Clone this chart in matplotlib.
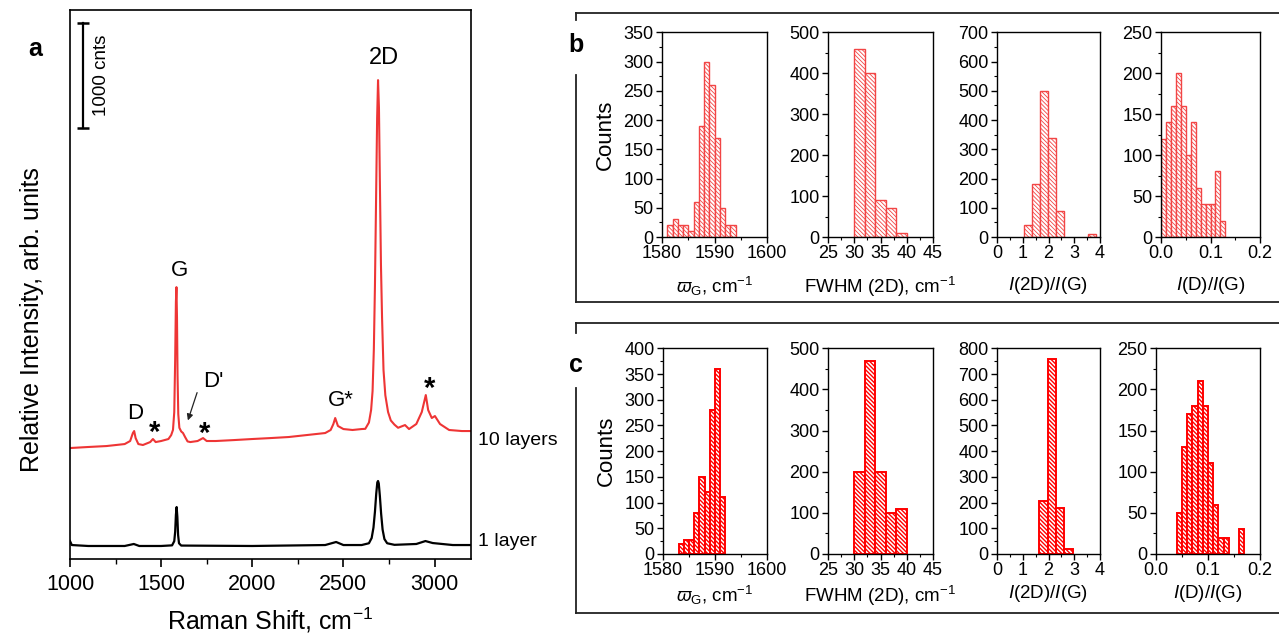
import numpy as np
import matplotlib
matplotlib.use('Agg')
import matplotlib.pyplot as plt
from matplotlib.lines import Line2D
from matplotlib.ticker import MultipleLocator

plt.rcParams['font.family'] = ['Liberation Sans', 'DejaVu Sans']
plt.rcParams['mathtext.fontset'] = 'custom'
plt.rcParams['mathtext.rm'] = 'Liberation Sans'
plt.rcParams['mathtext.it'] = 'Liberation Sans:italic'
plt.rcParams['mathtext.bf'] = 'Liberation Sans:bold'
plt.rcParams['hatch.linewidth'] = 0.8

# ---- panel a: Raman spectra (cm-1, counts)
shift_10 = [1000, 1100, 1200, 1300, 1330, 1345, 1352, 1360, 1375, 1400, 1440, 1455, 1470,
            1500, 1540, 1555, 1565, 1572, 1577, 1581, 1584, 1587, 1590, 1594, 1600, 1610,
            1620, 1632, 1645, 1660, 1700, 1730, 1750, 1800, 1900, 2000, 2100, 2200, 2300,
            2400, 2430, 2445, 2455, 2470, 2500, 2550, 2600, 2620, 2640, 2652, 2660, 2667,
            2673, 2679, 2685, 2690, 2695, 2700, 2706, 2712, 2720, 2730, 2745, 2760, 2780,
            2800, 2838, 2860, 2900, 2930, 2952, 2965, 2985, 3002, 3030, 3080, 3150, 3200]
cnts_10 = [1057, 1067, 1076, 1095, 1124, 1200, 1219, 1152, 1095, 1086, 1114, 1143, 1114,
           1124, 1143, 1180, 1230, 1400, 1900, 2450, 2590, 2300, 1750, 1380, 1250, 1215,
           1200, 1160, 1120, 1114, 1124, 1152, 1124, 1124, 1133, 1143, 1152, 1162, 1181,
           1200, 1229, 1286, 1343, 1267, 1238, 1229, 1238, 1240, 1300, 1420, 1600, 2000,
           2600, 3400, 4200, 4562, 4300, 3600, 2800, 2300, 1800, 1560, 1400, 1320, 1280,
           1250, 1276, 1238, 1286, 1400, 1562, 1419, 1343, 1362, 1286, 1229, 1219, 1219]

shift_1 = [1000, 1010, 1100, 1300, 1350, 1380, 1500, 1560, 1572, 1577, 1581, 1585, 1589,
           1593, 1598, 1610, 2000, 2400, 2460, 2500, 2600, 2640, 2655, 2665, 2673, 2680,
           2686, 2690, 2694, 2700, 2707, 2715, 2725, 2740, 2780, 2900, 2950, 2990, 3100, 3200]
cnts_1 = [171, 133, 124, 124, 143, 124, 124, 130, 170, 260, 420, 495, 400,
          230, 150, 128, 124, 133, 162, 133, 133, 150, 200, 300, 450, 620,
          730, 743, 720, 600, 430, 280, 190, 150, 135, 143, 171, 152, 133, 133]

# ---- panel b histograms (10 layers)
b_wg_left = [1581, 1582, 1583, 1584, 1585, 1586, 1587, 1588, 1589, 1590, 1591, 1592, 1593]
b_wg_cnt = [20, 30, 20, 20, 10, 60, 190, 300, 260, 170, 50, 20, 20]
b_fw_left = [30, 32, 34, 36, 38]
b_fw_cnt = [460, 400, 90, 70, 10]
b_r2d_left = [1.06, 1.37, 1.68, 1.99, 2.30, 3.54]
b_r2d_cnt = [40, 180, 500, 340, 90, 10]
b_rd_left = [0.00, 0.01, 0.02, 0.03, 0.04, 0.05, 0.06, 0.07, 0.08, 0.09, 0.10, 0.11, 0.12]
b_rd_cnt = [120, 140, 160, 200, 160, 100, 140, 60, 40, 40, 40, 80, 20]

# ---- panel c histograms (1 layer)
c_wg_left = [1583, 1584, 1585, 1586, 1587, 1588, 1589, 1590, 1591]
c_wg_cnt = [20, 28, 28, 80, 150, 120, 280, 360, 110]
c_fw_left = [30, 32, 34, 36, 38]
c_fw_cnt = [200, 470, 200, 100, 110]
c_r2d_left = [1.65, 1.97, 2.30, 2.62]
c_r2d_cnt = [205, 760, 180, 20]
c_rd_left = [0.04, 0.05, 0.06, 0.07, 0.08, 0.09, 0.10, 0.11, 0.12, 0.13, 0.16]
c_rd_cnt = [50, 130, 170, 180, 210, 180, 110, 60, 20, 20, 30]

W, H = 1279, 639
fig = plt.figure(figsize=(W / 100, H / 100), dpi=100)


def px_axes(l, t, r, b):
    return fig.add_axes([l / W, 1 - b / H, (r - l) / W, (b - t) / H])


def fig_line(xs, ys):
    fig.add_artist(Line2D([x / W for x in xs], [1 - y / H for y in ys],
                          transform=fig.transFigure, color='#222222', lw=1.3))


# ---- panel a
ax = px_axes(70, 10, 471, 559)
ax.plot(shift_10, cnts_10, color='#ee3535', lw=1.5)
ax.plot(shift_1, cnts_1, color='black', lw=1.6)
ax.set_xlim(1000, 3200)
ax.set_ylim(0, 5230)
ax.set_yticks([])
ax.set_xticks([1000, 1500, 2000, 2500, 3000])
ax.xaxis.set_minor_locator(MultipleLocator(250))
ax.tick_params(axis='x', which='major', direction='out', length=6, width=1.2,
               labelsize=15.5, pad=5)
ax.tick_params(axis='x', which='minor', direction='out', length=3.5, width=1.0)
for s in ax.spines.values():
    s.set_linewidth(1.2)

# scale bar
ax.plot([1071, 1071], [4108, 5108], color='black', lw=1.6)
ax.plot([1071, 1071], [4108, 5108], ls='none', marker='_', ms=8, mew=1.8, color='black')
ax.text(1174, 4610, '1000 cnts', rotation=90, ha='center', va='center', fontsize=13.5)

lab = dict(ha='center', va='center', fontsize=16)
ax.text(1600, 2752, 'G', **lab)
ax.text(2725, 4772, '2D', fontsize=17, ha='center', va='center')
ax.text(1357, 1390, 'D', **lab)
ax.text(1784, 1695, "D'", **lab)
ax.text(2487, 1514, 'G*', **lab)
star = dict(ha='center', va='center', fontsize=21, fontweight='bold')
ax.text(1466, 1200, '*', **star)
ax.text(1740, 1188, '*', **star)
ax.text(2975, 1620, '*', **star)
ax.annotate('', xy=(1642, 1295), xytext=(1702, 1610),
            arrowprops=dict(arrowstyle='-|>', color='#222222', lw=0.9,
                            mutation_scale=9))
ax.text(3238, 1133, '10 layers', ha='left', va='center', fontsize=14, clip_on=False)
ax.text(3238, 171, '1 layer', ha='left', va='center', fontsize=14, clip_on=False)

fig.text(32 / W, 1 - 320 / H, 'Relative Intensity, arb. units', rotation=90,
         ha='center', va='center', fontsize=18)
fig.text(270 / W, 1 - 620 / H, 'Raman Shift, cm$^{-1}$', ha='center', va='center',
         fontsize=18)
fig.text(35 / W, 1 - 49 / H, 'a', ha='center', va='center', fontsize=18,
         fontweight='bold')

# ---- panels b and c
lbl_wg = r'$\varpi_{\mathrm{G}}$, cm$^{-1}$'
lbl_fw = 'FWHM (2D), cm$^{-1}$'
lbl_r2d = '$I$(2D)/$I$(G)'
lbl_rd = '$I$(D)/$I$(G)'


def hist(rect, lefts, counts, width, xlim, xticks, xticklabels, xminor, ymax, ystep,
         xlabel, color, elw, hlw, labelpad):
    a = px_axes(*rect)
    bars = a.bar(lefts, counts, width=width, align='edge', facecolor='white',
                 edgecolor=color, linewidth=elw, hatch='\\' * 8)
    for p in bars:
        if hasattr(p, 'set_hatch_linewidth'):
            p.set_hatch_linewidth(hlw)
    a.set_xlim(*xlim)
    a.set_ylim(0, ymax)
    a.set_xticks(xticks, xticklabels)
    a.xaxis.set_minor_locator(MultipleLocator(xminor))
    a.set_yticks(np.arange(0, ymax + 1, ystep))
    a.yaxis.set_minor_locator(MultipleLocator(ystep / 2))
    a.tick_params(which='major', direction='out', length=4, width=1.0, labelsize=13,
                  pad=2)
    a.tick_params(which='minor', direction='out', length=2.5, width=0.8)
    a.set_xlabel(xlabel, fontsize=13.5, labelpad=labelpad)
    for s in a.spines.values():
        s.set_linewidth(1.0)
    return a


cb = '#f24545'
hist((662, 32.3, 767, 237), b_wg_left, b_wg_cnt, 1, (1580, 1600), [1580, 1590, 1600],
     ['1580', '1590', '1600'], 5, 350, 50, lbl_wg, cb, 1.0, 0.6, 9)
hist((828, 32.3, 933, 237), b_fw_left, b_fw_cnt, 2, (25, 45), [25, 30, 35, 40, 45],
     ['25', '30', '35', '40', '45'], 2.5, 500, 100, lbl_fw, cb, 1.0, 0.6, 9)
hist((997, 32.3, 1100, 237), b_r2d_left, b_r2d_cnt, 0.31, (0, 4), [0, 1, 2, 3, 4],
     ['0', '1', '2', '3', '4'], 0.5, 700, 100, lbl_r2d, cb, 1.0, 0.6, 9)
hist((1161, 32.3, 1260, 237), b_rd_left, b_rd_cnt, 0.01, (0, 0.2), [0, 0.1, 0.2],
     ['0.0', '0.1', '0.2'], 0.05, 250, 50, lbl_rd, cb, 1.0, 0.6, 9)

cc = '#ff0000'
hist((663, 348.3, 767, 554), c_wg_left, c_wg_cnt, 1, (1580, 1600), [1580, 1590, 1600],
     ['1580', '1590', '1600'], 5, 400, 50, lbl_wg, cc, 1.4, 1.0, 3)
hist((828, 348.3, 933, 554), c_fw_left, c_fw_cnt, 2, (25, 45), [25, 30, 35, 40, 45],
     ['25', '30', '35', '40', '45'], 2.5, 500, 100, lbl_fw, cc, 1.4, 1.0, 3)
hist((997, 348.3, 1100, 554), c_r2d_left, c_r2d_cnt, 0.32, (0, 4), [0, 1, 2, 3, 4],
     ['0', '1', '2', '3', '4'], 0.5, 800, 100, lbl_r2d, cc, 1.4, 1.0, 3)
hist((1156, 348.3, 1260, 554), c_rd_left, c_rd_cnt, 0.01, (0, 0.2), [0, 0.1, 0.2],
     ['0.0', '0.1', '0.2'], 0.05, 250, 50, lbl_rd, cc, 1.4, 1.0, 3)

fig.text(605 / W, 1 - 135 / H, 'Counts', rotation=90, ha='center', va='center',
         fontsize=16)
fig.text(606 / W, 1 - 451 / H, 'Counts', rotation=90, ha='center', va='center',
         fontsize=16)

# frames around b and c
fig_line([576, 1279], [13.3, 13.3])
fig_line([576, 576], [13.3, 20])
fig_line([576, 576], [75, 301.7])
fig_line([576, 1279], [301.7, 301.7])
fig_line([576, 1279], [323.3, 323.3])
fig_line([576, 576], [323.3, 333])
fig_line([576, 576], [388, 613.3])
fig_line([576, 1279], [613.3, 613.3])
fig.text(576 / W, 1 - 45 / H, 'b', ha='center', va='center', fontsize=18,
         fontweight='bold')
fig.text(576 / W, 1 - 365 / H, 'c', ha='center', va='center', fontsize=18,
         fontweight='bold')

fig.savefig('out.png', dpi=100)
